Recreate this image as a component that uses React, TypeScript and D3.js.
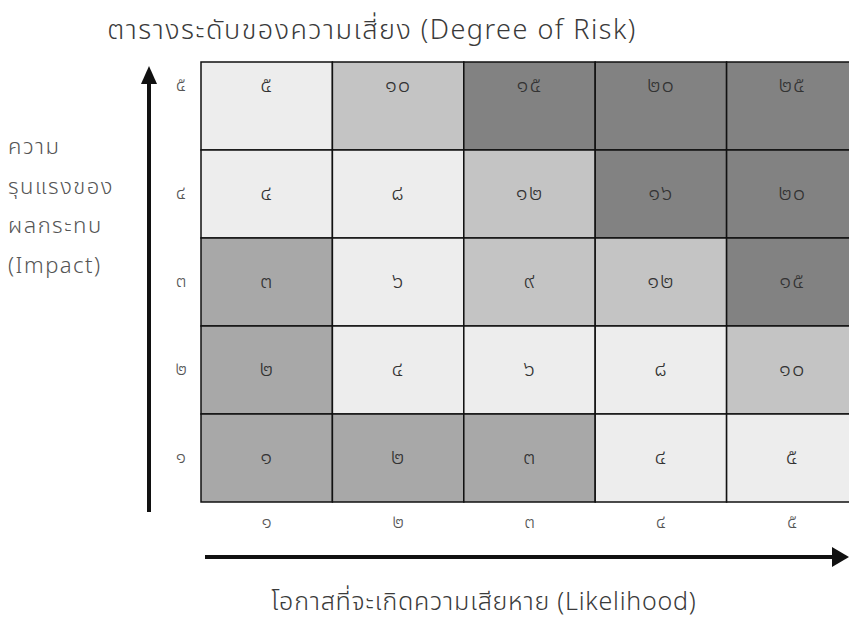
import * as React from 'react';
import * as d3 from 'd3';

const likelihood = [1, 2, 3, 4, 5];
const impact = [5, 4, 3, 2, 1];
const thaiDigits = ['๐', '๑', '๒', '๓', '๔', '๕', '๖', '๗', '๘', '๙'];

// risk scores, rows from impact 5 (top) down to impact 1
const scores = [
    [5, 10, 15, 20, 25],
    [4, 8, 12, 16, 20],
    [3, 6, 9, 12, 15],
    [2, 4, 6, 8, 10],
    [1, 2, 3, 4, 5],
];

const levelBreaks = [4, 9, 15];
const levelColors = ['#a8a8a8', '#ededed', '#c4c4c4', '#828282'];

const title = 'ตารางระดับของความเสี่ยง (Degree of Risk)';
const yTitle = ['ความ', 'รุนแรงของ', 'ผลกระทบ', '(Impact)'];
const xTitle = 'โอกาสที่จะเกิดความเสียหาย (Likelihood)';

const width = 849;
const height = 623;
const grid = { left: 201, right: 858, top: 62, bottom: 502 };
const font = '"Noto Sans Thai", "Noto Sans", "DejaVu Sans", sans-serif';

const toThai = (n: number) => String(n).split('').map(c => thaiDigits[+c]).join('');

export default function App() {
    const x = d3.scaleBand<number>().domain(likelihood).range([grid.left, grid.right]);
    const y = d3.scaleBand<number>().domain(impact).range([grid.top, grid.bottom]);
    const color = d3.scaleThreshold<number, string>().domain(levelBreaks).range(levelColors);

    const cells = impact.flatMap((imp, r) =>
        likelihood.map((lik, c) => ({ imp, lik, score: scores[r][c] })));

    const labelY = (imp: number) =>
        imp === impact[0] ? (y(imp) || 0) + 24 : (y(imp) || 0) + y.bandwidth() / 2;

    const arrowX = 149;
    const arrowY = 557;

    return (
        <svg width={width} height={height}
            style={{ position: 'absolute', left: 0, top: 0, background: '#fff' }}
            fontFamily={font}>
            <text x={372} y={31} textAnchor="middle" dominantBaseline="middle"
                fontSize={27} letterSpacing={1.5} fill="#3a3a3a" fontWeight={300}>{title}</text>

            {cells.map(d => (
                <rect key={`${d.imp}-${d.lik}`}
                    x={x(d.lik)} y={y(d.imp)}
                    width={x.bandwidth()} height={y.bandwidth()}
                    fill={color(d.score)} stroke="#111" strokeWidth={1.5} />
            ))}
            {cells.map(d => (
                <text key={`t${d.imp}-${d.lik}`}
                    x={(x(d.lik) || 0) + x.bandwidth() / 2} y={labelY(d.imp)}
                    textAnchor="middle" dominantBaseline="middle"
                    fontSize={22} letterSpacing={1} fill="#333" fontWeight={300}>{toThai(d.score)}</text>
            ))}

            {impact.map(imp => (
                <text key={`yt${imp}`} x={181} y={labelY(imp)}
                    textAnchor="middle" dominantBaseline="middle"
                    fontSize={19} fill="#555" fontWeight={300}>{toThai(imp)}</text>
            ))}
            {likelihood.map(lik => (
                <text key={`xt${lik}`} x={(x(lik) || 0) + x.bandwidth() / 2} y={523}
                    textAnchor="middle" dominantBaseline="middle"
                    fontSize={19} fill="#555" fontWeight={300}>{toThai(lik)}</text>
            ))}

            {/* vertical arrow */}
            <line x1={arrowX} x2={arrowX} y1={80} y2={512} stroke="#111" strokeWidth={4} />
            <path d={`M${arrowX},66 L${arrowX - 8},84 L${arrowX + 8},84 Z`} fill="#111" />

            {/* horizontal arrow */}
            <line x1={205} x2={834} y1={arrowY} y2={arrowY} stroke="#111" strokeWidth={4} />
            <path d={`M849,${arrowY} L832,${arrowY - 10} L832,${arrowY + 10} Z`} fill="#111" />

            {yTitle.map((t, i) => (
                <text key={t} x={8} y={148 + i * 39.5} dominantBaseline="middle"
                    fontSize={22} letterSpacing={1.5} fill="#555" fontWeight={300}>{t}</text>
            ))}
            <text x={484} y={603} textAnchor="middle" dominantBaseline="middle"
                fontSize={25} letterSpacing={0.8} fill="#3a3a3a" fontWeight={300}>{xTitle}</text>
        </svg>
    );
}
